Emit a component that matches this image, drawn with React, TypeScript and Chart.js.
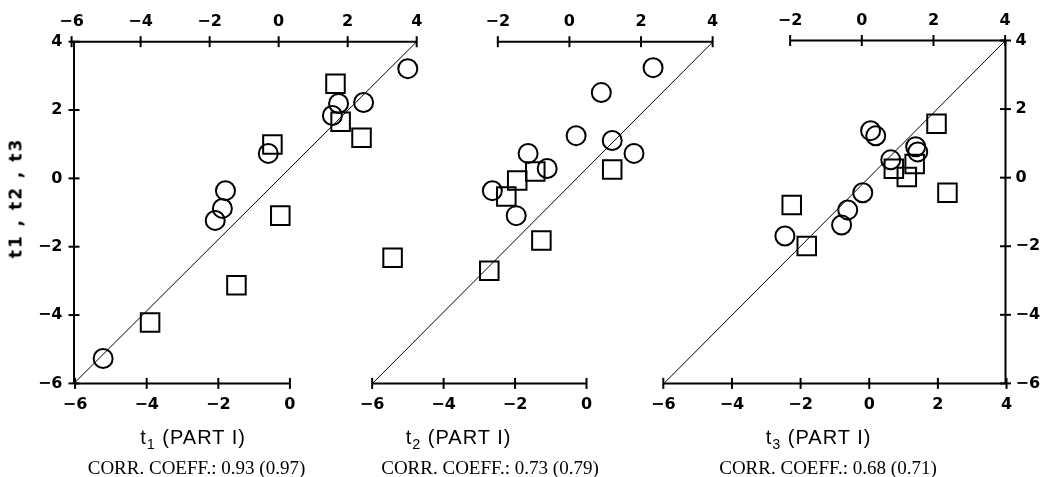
import React, { useEffect, useRef } from 'react';
import { Chart, registerables } from 'chart.js';

Chart.register(...registerables);

const W = 1046;
const H = 477;

// ---------------- data ----------------
// value range shared by both axes of every panel
const AXIS_MIN = -6;
const AXIS_MAX = 4;
const diagonalEnds = [AXIS_MIN, AXIS_MAX];

// panel 1 : t1 (PART I)
const p1CircleX = [-5.15, -1.88, -1.67, -1.58, -0.33, 1.54, 1.72, 2.45, 3.74];
const p1CircleY = [-5.27, -1.23, -0.88, -0.36, 0.73, 1.84, 2.19, 2.22, 3.21];
const p1SquareX = [-3.78, -1.26, 0.02, -0.21, 1.63, 1.78, 2.39];
const p1SquareY = [-4.22, -3.13, -1.09, 0.99, 2.77, 1.66, 1.19];

// panel 2 : t2 (PART I)
const p2CircleX = [2.24, 0.72, -0.02, 1.04, 1.68, -1.43, -0.87, -2.48, -1.78];
const p2CircleY = [3.24, 2.51, 1.25, 1.11, 0.73, 0.73, 0.29, -0.36, -1.09];
const p2SquareX = [1.04, -1.22, -1.75, -2.07, -1.04, -2.57, -5.41];
const p2SquareY = [0.26, 0.2, -0.06, -0.53, -1.82, -2.7, -2.32];

// panel 3 : t3 (PART I)
const p3CircleX = [0.05, 0.2, 1.37, 1.43, 0.64, -0.18, -0.62, -0.8, -2.46];
const p3CircleY = [1.37, 1.22, 0.9, 0.75, 0.52, -0.44, -0.94, -1.38, -1.7];
const p3SquareX = [1.98, 1.34, 0.73, 1.11, 2.3, -2.26, -1.82];
const p3SquareY = [1.57, 0.4, 0.26, 0.02, -0.44, -0.8, -1.99];

// tick labels
const p1TopTicks = [-6, -4, -2, 0, 2, 4];
const p1BottomTicks = [-6, -4, -2, 0];
const p1SideTicks = [-6, -4, -2, 0, 2, 4];
const p2TopTicks = [-2, 0, 2, 4];
const p2BottomTicks = [-6, -4, -2, 0];
const p2SideTicks: number[] = [];
const p3TopTicks = [-2, 0, 2, 4];
const p3BottomTicks = [-6, -4, -2, 0, 2, 4];
const p3SideTicks = [-6, -4, -2, 0, 2, 4];

// the printed top / bottom scales are slightly offset from the data frame
const p1TopRange = [-5.93, 4.0];
const p1BottomRange = [-6.03, 3.54];
const p2TopRange = [-5.5, 4.01];
const p2BottomRange = [-5.99, 3.54];
const p3TopRange = [-5.52, 4.01];
const p3BottomRange = [-5.98, 3.97];

// texts
const subscripts = ['1', '2', '3'];
const partLabel = '(PART I)';
const corrLabels = [
  'CORR. COEFF.: 0.93 (0.97)',
  'CORR. COEFF.: 0.73 (0.79)',
  'CORR. COEFF.: 0.68 (0.71)',
];
const yAxisTitle = 't1 , t2 , t3';

// ---------------- layout ----------------
type Pt = { x: number; y: number };
const zip = (xs: number[], ys: number[]): Pt[] => xs.map((x, i) => ({ x, y: ys[i] }));

interface Spec {
  area: { left: number; right: number; top: number; bottom: number };
  topRange: number[];
  bottomRange: number[];
  topTicks: number[];
  bottomTicks: number[];
  sideTicks: number[];
  side: 'left' | 'right';
  circles: Pt[];
  squares: Pt[];
  titleX: number;
  corrX: number;
}

const specs: Spec[] = [
  {
    area: { left: 74, right: 416.7, top: 41.7, bottom: 383.4 },
    topRange: p1TopRange, bottomRange: p1BottomRange,
    topTicks: p1TopTicks, bottomTicks: p1BottomTicks, sideTicks: p1SideTicks, side: 'left',
    circles: zip(p1CircleX, p1CircleY), squares: zip(p1SquareX, p1SquareY),
    titleX: 193, corrX: 196.5,
  },
  {
    area: { left: 372.5, right: 713, top: 41.7, bottom: 383.4 },
    topRange: p2TopRange, bottomRange: p2BottomRange,
    topTicks: p2TopTicks, bottomTicks: p2BottomTicks, sideTicks: p2SideTicks, side: 'left',
    circles: zip(p2CircleX, p2CircleY), squares: zip(p2SquareX, p2SquareY),
    titleX: 458.5, corrX: 490,
  },
  {
    area: { left: 664, right: 1005.5, top: 40.5, bottom: 383.4 },
    topRange: p3TopRange, bottomRange: p3BottomRange,
    topTicks: p3TopTicks, bottomTicks: p3BottomTicks, sideTicks: p3SideTicks, side: 'right',
    circles: zip(p3CircleX, p3CircleY), squares: zip(p3SquareX, p3SquareY),
    titleX: 818.5, corrX: 828,
  },
];

// fixed sizes of the tick-label boxes around each plot frame
const TOP_BOX = 40;
const BOTTOM_BOX = 40;
const SIDE_BOX = 40;

const BLACK = '#000';
const NONE = 'rgba(0,0,0,0)';
const tickFont = { family: "'DejaVu Sans', sans-serif", size: 16, weight: 'bold' as const };
const fmt = (v: number | string) => {
  const n = Number(v);
  return n < 0 ? '\u2212' + Math.abs(n) : String(n);
};

function buildConfig(s: Spec): any {
  const edgeX = s.side === 'left' ? AXIS_MIN : AXIS_MAX;
  const first = (a: number[]) => a[0];
  const last = (a: number[]) => a[a.length - 1];
  const hasSide = s.sideTicks.length > 0;
  const sideBox = hasSide ? SIDE_BOX : 0;

  const line = (data: Pt[], xAxisID: string, width: number) => ({
    data, xAxisID, yAxisID: 'y', showLine: true,
    borderColor: BLACK, borderWidth: width, pointRadius: 0, pointHoverRadius: 0,
    fill: false, clip: false, tension: 0,
  });
  const marks = (data: Pt[], xAxisID: string, rotation: number) => ({
    data, xAxisID, yAxisID: 'y', showLine: false,
    pointStyle: 'line', pointRadius: 5.5, pointHoverRadius: 5.5,
    pointRotation: rotation, rotation,
    pointBorderColor: BLACK, borderColor: BLACK, pointBorderWidth: 2, borderWidth: 2, clip: false,
  });
  const markers = (data: Pt[], style: string, radius: number) => ({
    data, xAxisID: 'x', yAxisID: 'y', showLine: false,
    pointStyle: style, pointRadius: radius, pointHoverRadius: radius,
    pointBorderColor: BLACK, borderColor: BLACK,
    pointBackgroundColor: NONE, backgroundColor: NONE,
    pointBorderWidth: 2, borderWidth: 2, clip: false,
  });

  const datasets: any[] = [
    line(diagonalEnds.map((v) => ({ x: v, y: v })), 'x', 1),
    line([{ x: first(s.topTicks), y: AXIS_MAX }, { x: last(s.topTicks), y: AXIS_MAX }], 'xt', 2),
    line([{ x: first(s.bottomTicks), y: AXIS_MIN }, { x: last(s.bottomTicks), y: AXIS_MIN }], 'xb', 2),
    marks(s.topTicks.map((v) => ({ x: v, y: AXIS_MAX })), 'xt', 90),
    marks(s.bottomTicks.map((v) => ({ x: v, y: AXIS_MIN })), 'xb', 90),
  ];
  if (hasSide) {
    datasets.push(line([{ x: edgeX, y: first(s.sideTicks) }, { x: edgeX, y: last(s.sideTicks) }], 'x', 2));
    datasets.push(marks(s.sideTicks.map((v) => ({ x: edgeX, y: v })), 'x', 0));
  }
  datasets.push(markers(s.circles, 'circle', 9.5));
  datasets.push(markers(s.squares, 'rect', 13.1));

  const hAxis = (pos: 'top' | 'bottom', range: number[], ticks: number[], padding: number, box: number) => ({
    type: 'linear', axis: 'x', position: pos, min: range[0], max: range[1], bounds: 'data',
    grid: { display: false, drawTicks: false }, border: { display: false },
    ticks: { font: tickFont, color: BLACK, padding, autoSkip: false, maxRotation: 0, minRotation: 0, callback: fmt },
    afterBuildTicks: (sc: any) => { sc.ticks = ticks.map((v) => ({ value: v })); },
    afterFit: (sc: any) => { sc.height = box; },
  });

  const padLeft = s.side === 'left' ? s.area.left - sideBox : s.area.left;
  const padRight = s.side === 'right' ? W - s.area.right - sideBox : W - s.area.right;

  return {
    type: 'scatter',
    data: { datasets },
    options: {
      responsive: false,
      maintainAspectRatio: false,
      animation: false,
      events: [],
      layout: {
        padding: {
          left: padLeft,
          right: padRight,
          top: s.area.top - TOP_BOX,
          bottom: H - s.area.bottom - BOTTOM_BOX,
        },
      },
      plugins: { legend: { display: false }, tooltip: { enabled: false }, title: { display: false } },
      scales: {
        x: { type: 'linear', display: false, min: AXIS_MIN, max: AXIS_MAX, bounds: 'data' },
        y: {
          type: 'linear', position: s.side, min: AXIS_MIN, max: AXIS_MAX, bounds: 'data',
          display: hasSide,
          grid: { display: false, drawTicks: false }, border: { display: false },
          ticks: { font: tickFont, color: BLACK, padding: s.side === 'left' ? 11.5 : 10, autoSkip: false, callback: fmt },
          afterBuildTicks: (sc: any) => { sc.ticks = s.sideTicks.map((v) => ({ value: v })); },
          afterFit: (sc: any) => { sc.width = sideBox; },
        },
        xt: hAxis('top', s.topRange, s.topTicks, 10.5, TOP_BOX),
        xb: hAxis('bottom', s.bottomRange, s.bottomTicks, 12, BOTTOM_BOX),
      },
    },
  };
}

function Panel({ spec }: { spec: Spec }) {
  const ref = useRef<HTMLCanvasElement>(null);
  useEffect(() => {
    if (!ref.current) return;
    const chart = new Chart(ref.current, buildConfig(spec));
    return () => chart.destroy();
  }, [spec]);
  return (
    <canvas
      ref={ref}
      width={W}
      height={H}
      style={{ position: 'absolute', left: 0, top: 0, width: W, height: H }}
    />
  );
}

const centered = (x: number, y: number): React.CSSProperties => ({
  position: 'absolute',
  left: x,
  top: y,
  transform: 'translate(-50%, -50%)',
  whiteSpace: 'pre',
  lineHeight: 1,
  color: BLACK,
});

export default function App() {
  return (
    <div
      style={{
        position: 'fixed', left: 0, top: 0, width: W, height: H,
        background: '#fff', overflow: 'hidden',
      }}
    >
      {specs.map((s, i) => (
        <Panel key={i} spec={s} />
      ))}
      <div
        style={{
          ...centered(16, 198),
          transform: 'translate(-50%, -50%) rotate(-90deg)',
          fontFamily: "'DejaVu Sans', sans-serif",
          fontWeight: 'bold',
          fontSize: 17,
          letterSpacing: 2,
        }}
      >
        {yAxisTitle}
      </div>
      {specs.map((s, i) => (
        <React.Fragment key={'t' + i}>
          <div
            style={{
              ...centered(s.titleX, 437),
              fontFamily: "'Liberation Sans', Arial, sans-serif",
              fontSize: 20,
              letterSpacing: 1,
            }}
          >
            t
            <span style={{ fontSize: '0.72em', position: 'relative', top: '0.32em' }}>{subscripts[i]}</span>
            {' ' + partLabel}
          </div>
          <div
            style={{
              ...centered(s.corrX, 467),
              fontFamily: "'Liberation Serif', 'Times New Roman', serif",
              fontSize: 19,
            }}
          >
            {corrLabels[i]}
          </div>
        </React.Fragment>
      ))}
    </div>
  );
}
